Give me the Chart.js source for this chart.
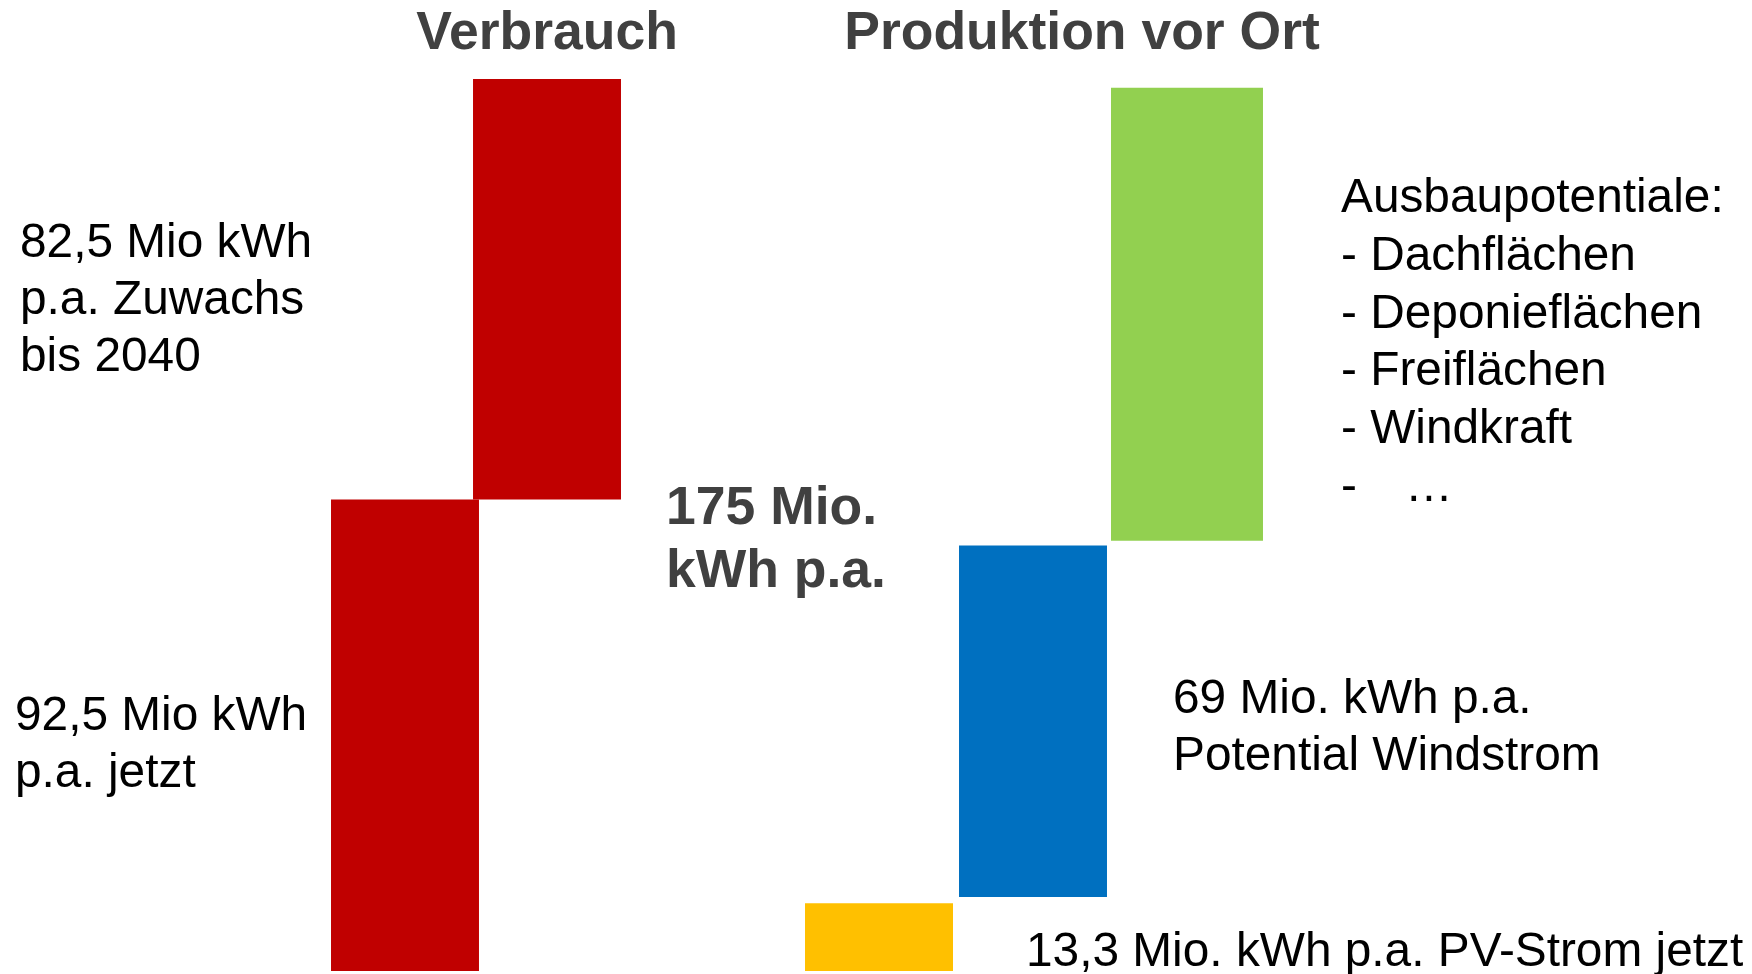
<!DOCTYPE html>
<html lang="de">
<head>
<meta charset="utf-8">
<title>Verbrauch und Produktion vor Ort</title>
<script src="https://cdn.jsdelivr.net/npm/chart.js@4.4.1/dist/chart.umd.min.js"></script>
<style>
  html, body { margin: 0; padding: 0; background: #ffffff; }
  #wrap { width: 1752px; height: 974px; position: relative; }
  canvas { display: block; }
</style>
</head>
<body>
<div id="wrap"><canvas id="chart" width="1752" height="974"></canvas></div>
<script>
// Two groups on the category axis: consumption and local production
const categories = ['Verbrauch', 'Produktion vor Ort'];

// Consumption in Mio. kWh p.a.: today and growth until 2040
const verbrauchLabels = ['Verbrauch jetzt', 'Zuwachs bis 2040'];
const verbrauchWerte = [92.5, 82.5];

// Local production in Mio. kWh p.a.: start level and amount of each block
const produktionLabels = ['PV-Strom jetzt', 'Potential Windstrom', 'Ausbaupotentiale'];
const produktionStart = [0, 14.5, 84.4];
const produktionWerte = [13.3, 69, 88.9];

const verbrauchFarben = ['#C00000', '#C00000'];
const produktionFarben = ['#FFC000', '#0070C0', '#92D050'];

// Floating bars: consumption blocks stacked one above the other
const datasets = [];
let sum = 0;
verbrauchWerte.forEach((v, i) => {
  datasets.push({
    label: verbrauchLabels[i],
    data: [[sum, sum + v], null],
    backgroundColor: verbrauchFarben[i],
    categoryPercentage: 0.5099,
    barPercentage: 1.042
  });
  sum += v;
});
const barPct = [0.961, 0.961, 0.987];
produktionWerte.forEach((v, i) => {
  datasets.push({
    label: produktionLabels[i],
    data: [null, [produktionStart[i], produktionStart[i] + v]],
    backgroundColor: produktionFarben[i],
    categoryPercentage: 0.8294,
    barPercentage: barPct[i]
  });
});

// Annotation texts drawn onto the canvas
const REGULAR = '47.8px "Liberation Sans", Arial, sans-serif';
const BOLD = 'bold 53.5px "Liberation Sans", Arial, sans-serif';
const titles = [
  { text: categories[0], x: 547, y: 49 },
  { text: categories[1], x: 1082, y: 49 }
];
const notes = [
  { lines: ['82,5 Mio kWh', 'p.a. Zuwachs', 'bis 2040'], x: 20, y: 257, lh: 57, font: REGULAR, color: '#000000' },
  { lines: ['92,5 Mio kWh', 'p.a. jetzt'], x: 15, y: 730, lh: 57, font: REGULAR, color: '#000000' },
  { lines: ['175 Mio.', 'kWh p.a.'], x: 666, y: 524, lh: 63, font: BOLD, color: '#404040' },
  { lines: ['Ausbaupotentiale:', '- Dachflächen', '- Deponieflächen', '- Freiflächen', '- Windkraft', '-'], x: 1341, y: 212, lh: 57.8, font: REGULAR, color: '#000000' },
  { lines: ['\u2026'], x: 1405, y: 501, lh: 57.8, font: REGULAR, color: '#000000' },
  { lines: ['69 Mio. kWh p.a.', 'Potential Windstrom'], x: 1173, y: 713, lh: 57, font: REGULAR, color: '#000000' },
  { lines: ['13,3 Mio. kWh p.a. PV-Strom jetzt'], x: 1026, y: 966, lh: 57, font: REGULAR, color: '#000000' }
];

const textPlugin = {
  id: 'annotationTexts',
  afterDraw(chart) {
    const ctx = chart.ctx;
    ctx.save();
    ctx.textBaseline = 'alphabetic';
    ctx.font = BOLD;
    ctx.fillStyle = '#404040';
    ctx.textAlign = 'center';
    titles.forEach(t => ctx.fillText(t.text, t.x, t.y));
    ctx.textAlign = 'left';
    notes.forEach(n => {
      ctx.font = n.font;
      ctx.fillStyle = n.color;
      n.lines.forEach((line, i) => ctx.fillText(line, n.x, n.y + i * n.lh));
    });
    ctx.restore();
  }
};

new Chart(document.getElementById('chart'), {
  type: 'bar',
  data: { labels: categories, datasets },
  options: {
    responsive: false,
    animation: false,
    devicePixelRatio: 1,
    layout: { padding: { left: 197.5, right: 440.5, top: 79, bottom: 3 } },
    datasets: { bar: { skipNull: true, borderWidth: 0 } },
    plugins: { legend: { display: false }, tooltip: { enabled: false }, title: { display: false } },
    scales: {
      x: { display: false },
      y: { display: false, min: 0, max: 175 }
    }
  },
  plugins: [textPlugin]
});
</script>
</body>
</html>
